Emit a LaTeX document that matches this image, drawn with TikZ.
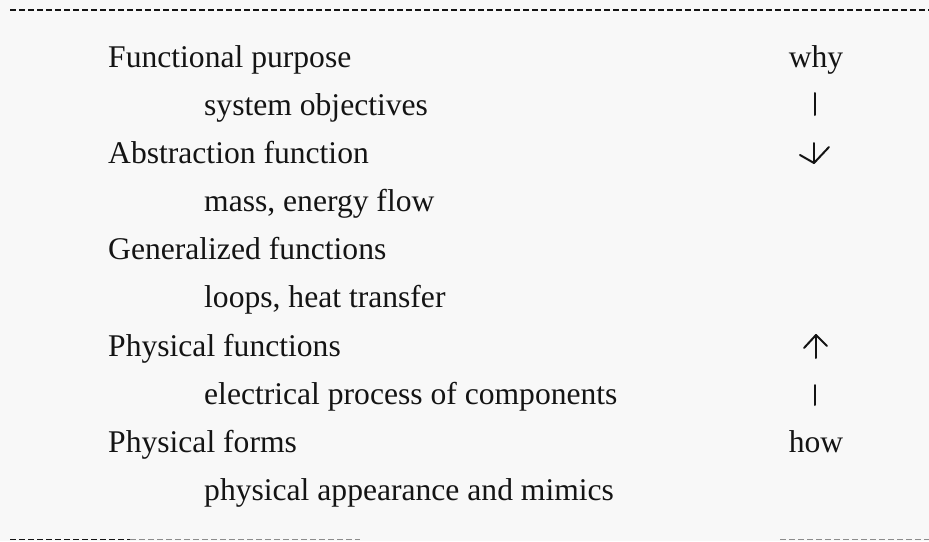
\documentclass[tikz,border=0pt]{standalone}
\usepackage{fontspec}
\setmainfont{Liberation Serif}
\definecolor{bg}{RGB}{248,248,248}
\definecolor{ink}{RGB}{20,20,20}
\tikzset{
  lbl/.style={anchor=base west, inner sep=0pt, text=ink, font=\fontsize{31.6}{36}\selectfont},
  rlbl/.style={anchor=base, inner sep=0pt, text=ink, font=\fontsize{31.6}{36}\selectfont},
  rulestyle/.style={draw=ink, line width=1.6pt, dash pattern=on 6pt off 3pt},
  faintrule/.style={draw=black!45, line width=1.4pt, dash pattern=on 6pt off 3pt},
  penstroke/.style={draw=ink, line width=2pt, line cap=round, line join=round}
}
\begin{document}
\begin{tikzpicture}[x=1pt, y=-1pt]
\fill[bg] (0,0) rectangle (929,541);
\useasboundingbox (0,0) rectangle (929,541);
% rules
\coordinate (t1) at (10,10); \coordinate (t2) at (929,10);
\draw[rulestyle] (t1) -- (t2);
\coordinate (b1) at (10,539.5); \coordinate (b2) at (130,539.5);
\coordinate (b3) at (360,539.5); \coordinate (b4) at (780,539.5); \coordinate (b5) at (929,539.5);
\draw[rulestyle] (b1) -- (b2);
\draw[faintrule] (b2) -- (b3);
\draw[faintrule] (b4) -- (b5);
% left column
\node[lbl] (fp)  at (108,67)  {Functional purpose};
\node[lbl] (so)  at (204,115) {system objectives};
\node[lbl] (af)  at (108,163) {Abstraction function};
\node[lbl] (me)  at (204,211) {mass, energy flow};
\node[lbl] (gf)  at (108,259) {Generalized functions};
\node[lbl] (lh)  at (204,307) {loops, heat transfer};
\node[lbl] (pf)  at (108,356) {Physical functions};
\node[lbl] (ep)  at (204,404) {electrical process of components};
\node[lbl] (pfo) at (108,452) {Physical forms};
\node[lbl] (pa)  at (204,500) {physical appearance and mimics};
% right column
\node[rlbl] (why) at (816,67)  {why};
\node[rlbl] (how) at (816,452) {how};
% down marks
\coordinate (w1) at (815,93);  \coordinate (w2) at (815,115);
\draw[penstroke] (w1) -- (w2);
\coordinate (ds) at (814,143); \coordinate (dt) at (814,163);
\coordinate (dl) at (800,155); \coordinate (dr) at (829,147);
\draw[penstroke] (ds) -- (dt);
\draw[penstroke] (dl) -- (dt) -- (dr);
% up marks
\coordinate (us) at (816,358); \coordinate (ut) at (816,335);
\coordinate (ul) at (804,348); \coordinate (ur) at (827,346);
\draw[penstroke] (us) -- (ut);
\draw[penstroke] (ul) -- (ut) -- (ur);
\coordinate (h1) at (815,385); \coordinate (h2) at (815,405);
\draw[penstroke] (h1) -- (h2);
\end{tikzpicture}
\end{document}
